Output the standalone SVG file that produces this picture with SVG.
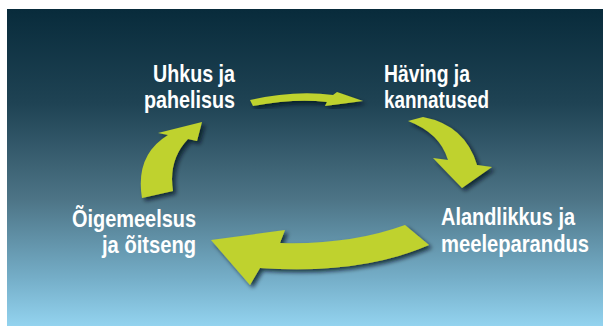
<svg xmlns="http://www.w3.org/2000/svg" width="609" height="326" viewBox="0 0 609 326">
<defs>
<linearGradient id="bg" x1="0" y1="0" x2="0" y2="1">
<stop offset="0" stop-color="#082b3b"/>
<stop offset="0.3" stop-color="#1f4354"/>
<stop offset="0.6" stop-color="#4d7486"/>
<stop offset="0.85" stop-color="#75aec8"/>
<stop offset="1" stop-color="#93d3ef"/>
</linearGradient>
<filter id="sh" x="-20%" y="-20%" width="140%" height="140%">
<feDropShadow dx="3" dy="3" stdDeviation="2" flood-color="#06161e" flood-opacity="0.75"/>
</filter>
<style>
.arrow{fill:#bfd22f;filter:url(#sh)}
.lbl{font-family:"Liberation Sans",Arial,sans-serif;font-weight:bold;font-size:24px;fill:#ffffff}
</style>
</defs>
<rect x="0" y="0" width="609" height="326" fill="#ffffff"/>
<rect x="7" y="9" width="596" height="317" fill="url(#bg)"/>
<g id="connectors">
<path class="arrow" d="M250,100 Q295,90 333,95 L337,92 L363,101 L325,106 L327,102 Q295,98 253,106 Z"/>
<path class="arrow" d="M408,121 L423,117 Q465,125 477,165 L492,167 L462,188 L433,158 L448,160 Q440,133 408,121 Z"/>
<path class="arrow" d="M405,225 L429,245 Q360,275 260,268 L250,285 L211,240 L285,230 L280,243 Q350,245 405,225 Z"/>
<path class="arrow" d="M142,198 Q135,155 168,135 L158,133 L202,122 L197,141 L188,139 Q168,160 173,191 Z"/>
</g>
<g id="node-uhkus">
<text class="lbl" x="153" y="82" textLength="82" lengthAdjust="spacingAndGlyphs">Uhkus ja</text>
<text class="lbl" x="144" y="108" textLength="91" lengthAdjust="spacingAndGlyphs">pahelisus</text>
</g>
<g id="node-having">
<text class="lbl" x="384" y="82" textLength="86" lengthAdjust="spacingAndGlyphs">Häving ja</text>
<text class="lbl" x="384" y="108" textLength="105" lengthAdjust="spacingAndGlyphs">kannatused</text>
</g>
<g id="node-alandlikkus">
<text class="lbl" x="441" y="225" textLength="134" lengthAdjust="spacingAndGlyphs">Alandlikkus ja</text>
<text class="lbl" x="441" y="252" textLength="148" lengthAdjust="spacingAndGlyphs">meeleparandus</text>
</g>
<g id="node-oigemeelsus">
<text class="lbl" x="72" y="227" textLength="124" lengthAdjust="spacingAndGlyphs">Õigemeelsus</text>
<text class="lbl" x="102" y="253" textLength="94" lengthAdjust="spacingAndGlyphs">ja õitseng</text>
</g>
</svg>
